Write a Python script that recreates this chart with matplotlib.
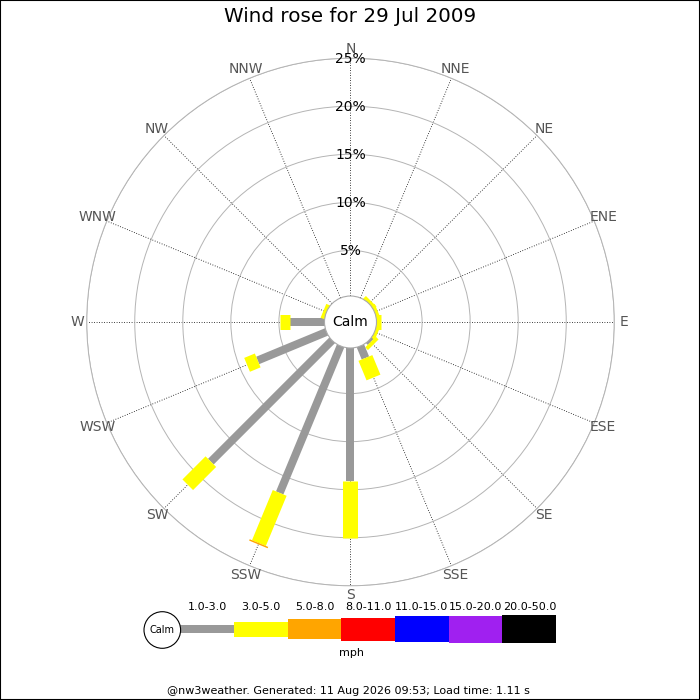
import numpy as np
import matplotlib
matplotlib.use('Agg')
import matplotlib.pyplot as plt
from matplotlib.patches import Circle, Rectangle

directions = ['N', 'NNE', 'NE', 'ENE', 'E', 'ESE', 'SE', 'SSE',
              'S', 'SSW', 'SW', 'WSW', 'W', 'WNW', 'NW', 'NNW']
band_labels = ['1.0-3.0', '3.0-5.0', '5.0-8.0', '8.0-11.0',
               '11.0-15.0', '15.0-20.0', '20.0-50.0']
band_colors = ['#999999', '#ffff00', '#ffa500', '#ff0000',
               '#0000ff', '#a020f0', '#000000']

# % of time per direction, for each speed band (mph)
band_1_3 = [0, 0, 0, 0, 0, 0, 0.5, 1.6, 14.1, 16.8, 18.1, 8.0, 3.85, 0, 0, 0]
band_3_5 = [0, 0, 0.6, 0.6, 0.75, 0.6, 0.4, 2.2, 5.95, 5.65, 3.4, 1.2, 1.05, 0.6, 0, 0]
band_5_8 = [0, 0, 0, 0, 0, 0, 0, 0, 0, 0.15, 0, 0, 0, 0, 0, 0]
band_8_11 = [0] * 16
band_11_15 = [0] * 16
band_15_20 = [0] * 16
band_20_50 = [0] * 16
bands = [band_1_3, band_3_5, band_5_8, band_8_11, band_11_15, band_15_20, band_20_50]

ring_ticks = [5, 10, 15, 20, 25]

# bar thickness per band, in pixels
band_px = [8, 15, 20, 23, 26, 27, 28]

fig = plt.figure(figsize=(7, 7), dpi=100)

# legend / text layer in pixel units
lax = fig.add_axes([0, 0, 1, 1])
lax.set_xlim(0, 700)
lax.set_ylim(700, 0)
lax.axis('off')

cx, cy, R = 350.5 / 700, 1 - 322 / 700, 263.8 / 700
ax = fig.add_axes([cx - R, cy - R, 2 * R, 2 * R], projection='polar')
ax.set_theta_zero_location('N')
ax.set_theta_direction(-1)
ax.set_ylim(0, 25)
ax.set_rorigin(-2.45)
ax.set_yticks(ring_ticks)
ax.set_yticklabels([])
thetas = np.radians(np.arange(16) * 22.5)
ax.set_xticks(thetas)
ax.set_xticklabels([])
ax.grid(axis='y', color='#b4b4b4', lw=0.7, ls='-')
ax.grid(axis='x', color='black', lw=0.6, ls=(0, (1, 2)))
ax.spines['polar'].set_color('#b4b4b4')
ax.spines['polar'].set_linewidth(0.7)
ax.patch.set_alpha(0)

for i, th in enumerate(thetas):
    cum = 0
    for b, vals in enumerate(bands):
        v = vals[i]
        if v > 0:
            ax.plot([th, th], [cum, cum + v], color=band_colors[b],
                    lw=band_px[b] * 0.72, solid_capstyle='butt', zorder=3)
            cum += v
    ax.text(th, 26.0, directions[i], ha='center', va='center',
            color='#555555', fontsize=10)

for p in ring_ticks:
    ax.text(0, p - 0.1, f'{p}%', ha='center', va='center', fontsize=10,
            color='black', zorder=4)

ax.add_patch(Circle((0.5, 0.5), 26 / 527.6, transform=ax.transAxes,
                    facecolor='white', edgecolor='#aaaaaa', lw=0.8,
                    zorder=5, clip_on=False))
ax.text(0.5, 0.5, 'Calm', transform=ax.transAxes, ha='center', va='center',
        fontsize=10, zorder=6)

# legend
x0 = 180
seg_w = [54, 53.7, 53.7, 53.7, 53.7, 53.7, 53.7]
for b in range(len(band_labels)):
    w = seg_w[b]
    h = band_px[b]
    lax.bar(x0 + w / 2, h, width=w, bottom=629 - h / 2, color=band_colors[b])
    lax.text(x0 + w / 2, 607.5, band_labels[b], ha='center', va='center', fontsize=8)
    x0 += w
lax.add_patch(Circle((162.3, 630), 18.3, facecolor='white', edgecolor='black', lw=0.8, zorder=4))
lax.text(162.3, 630, 'Calm', ha='center', va='center', fontsize=7, zorder=5)
lax.text(351, 653, 'mph', ha='center', va='center', fontsize=8)
lax.text(348, 691, '@nw3weather. Generated: 11 Aug 2026 09:53; Load time: 1.11 s',
         ha='center', va='center', fontsize=8)

fig.text(0.5, 1 - 17 / 700, 'Wind rose for 29 Jul 2009', ha='center', va='center',
         fontsize=14.3)
fig.patches.append(Rectangle((0, 0), 1, 1, transform=fig.transFigure, fill=False,
                             edgecolor='black', lw=1.5))

fig.savefig('out.png', dpi=100)
